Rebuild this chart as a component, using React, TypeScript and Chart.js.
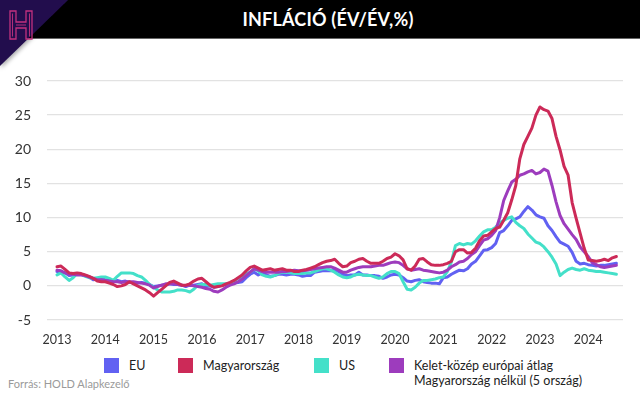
import React, { useEffect, useRef } from "react";
import { Chart, registerables } from "chart.js";

Chart.register(...registerables);

const START_YEAR = 2013;
const yearTicks = [2013, 2014, 2015, 2016, 2017, 2018, 2019, 2020, 2021, 2022, 2023, 2024];

const euValues = [
  2.1, 2.0, 1.9, 1.5, 1.6, 1.7, 1.7, 1.5, 1.3, 0.9, 1.0, 1.0,
  0.9, 0.8, 0.6, 0.8, 0.6, 0.7, 0.5, 0.5, 0.4, 0.5, 0.4, 0.2,
  -0.1, 0.0, 0.1, 0.1, 0.3, 0.2, 0.2, 0.1, -0.1, 0.1, 0.1, 0.2,
  0.3, -0.1, 0.0, -0.2, -0.1, 0.1, 0.2, 0.3, 0.4, 0.5, 0.6, 1.2,
  1.7, 2.0, 1.6, 1.9, 1.6, 1.4, 1.5, 1.7, 1.7, 1.6, 1.7, 1.7,
  1.6, 1.4, 1.5, 1.5, 2.0, 2.1, 2.2, 2.2, 2.2, 2.3, 2.1, 1.7,
  1.5, 1.6, 1.6, 2.0, 1.6, 1.6, 1.5, 1.5, 1.4, 1.1, 1.3, 1.6,
  1.7, 1.6, 1.2, 0.7, 0.6, 0.8, 0.9, 0.6, 0.5, 0.4, 0.4, 0.3,
  1.2, 1.3, 1.7, 2.0, 2.3, 2.2, 2.5, 3.2, 3.6, 4.4, 5.2, 5.3,
  5.6, 6.2, 7.8, 8.1, 8.8, 9.6, 9.8, 10.1, 10.9, 11.6, 11.1, 10.4,
  10.1, 9.9, 8.8, 8.1, 7.2, 6.4, 6.1, 5.8, 4.9, 3.6, 3.2, 3.3,
  3.1, 3.0, 2.9, 3.0, 3.0, 3.1, 3.2, 3.3,
];

const huValues = [
  2.8, 2.9, 2.4, 1.9, 1.8, 1.9, 1.8, 1.6, 1.4, 1.1, 0.7, 0.6,
  0.6, 0.4, 0.2, -0.1, 0.0, 0.2, 0.6, 0.3, 0.0, -0.3, -0.6, -1.0,
  -1.5, -1.0, -0.5, 0.0, 0.5, 0.7, 0.4, 0.1, 0.1, 0.3, 0.7, 1.0,
  1.1, 0.6, 0.1, -0.2, -0.1, 0.0, 0.3, 0.5, 0.8, 1.2, 1.6, 2.2,
  2.7, 2.9, 2.6, 2.3, 2.4, 2.5, 2.3, 2.4, 2.5, 2.3, 2.3, 2.1,
  2.1, 2.3, 2.4, 2.6, 2.8, 3.1, 3.4, 3.6, 3.7, 3.9, 3.3, 2.8,
  2.9, 3.4, 3.6, 3.9, 4.0, 3.6, 3.3, 3.3, 3.3, 3.6, 4.0, 4.2,
  4.7, 4.4, 3.8, 2.5, 2.3, 2.9, 3.9, 4.0, 3.5, 3.1, 3.0, 3.0,
  3.1, 3.3, 3.6, 5.0, 5.3, 5.3, 4.8, 4.9, 5.5, 6.6, 7.3, 7.4,
  7.9, 8.4, 8.6, 9.6, 10.7, 12.6, 14.7, 18.6, 20.7, 21.9, 23.1, 25.0,
  26.2, 25.8, 25.6, 24.5, 21.9, 19.9, 17.5, 16.2, 12.2, 9.9, 7.7, 5.5,
  3.8, 3.7, 3.6, 3.7, 3.9, 3.7, 4.1, 4.3,
];

const usValues = [
  1.6, 1.9, 1.3, 0.8, 1.2, 1.8, 1.7, 1.4, 1.2, 1.1, 1.2, 1.3,
  1.3, 1.1, 0.8, 1.4, 1.9, 1.9, 1.9, 1.8, 1.5, 1.3, 0.8, 0.2,
  -0.2, -0.6, -0.9, -0.9, -0.9, -0.8, -0.6, -0.6, -0.7, -0.9, -0.5, 0.1,
  0.2, 0.2, 0.1, 0.2, 0.3, 0.3, 0.3, 0.3, 0.7, 1.1, 1.3, 1.8,
  2.0, 2.5, 2.2, 1.6, 1.4, 1.3, 1.5, 1.8, 2.0, 2.0, 1.9, 1.8,
  1.8, 1.8, 1.9, 1.9, 2.1, 2.3, 2.5, 2.5, 2.3, 2.0, 1.6, 1.3,
  1.2, 1.3, 1.6, 1.7, 1.6, 1.5, 1.5, 1.3, 1.1, 1.3, 1.8, 2.1,
  2.1, 1.8, 0.6, -0.5, -0.6, -0.2, 0.4, 0.8, 0.8, 0.9, 1.0, 1.2,
  1.3, 2.1, 3.5, 5.9, 6.2, 6.0, 6.2, 6.1, 6.6, 7.3, 7.9, 8.2,
  8.2, 8.6, 9.2, 9.6, 9.9, 10.1, 9.3, 8.8, 8.4, 7.6, 7.0, 6.4,
  6.2, 5.7, 5.0, 4.2, 3.2, 1.5, 2.0, 2.4, 2.6, 2.4, 2.3, 2.5,
  2.3, 2.2, 2.1, 2.1, 2.0, 1.9, 1.8, 1.7,
];

const ceeValues = [
  2.3, 2.2, 1.9, 1.7, 1.7, 1.6, 1.6, 1.5, 1.3, 1.1, 0.9, 0.9,
  0.8, 0.7, 0.6, 0.6, 0.5, 0.6, 0.6, 0.6, 0.5, 0.4, 0.3, 0.1,
  -0.3, -0.1, 0.1, 0.3, 0.3, 0.3, 0.2, 0.1, 0.0, 0.1, 0.0, -0.1,
  -0.2, -0.4, -0.5, -0.8, -0.9, -0.6, -0.2, 0.1, 0.3, 0.6, 1.0, 1.5,
  2.0, 2.5, 2.3, 2.1, 2.0, 2.0, 2.0, 2.0, 2.1, 2.1, 2.2, 2.3,
  2.2, 2.2, 2.3, 2.4, 2.5, 2.6, 2.7, 2.8, 2.8, 2.6, 2.3, 2.0,
  2.0, 2.3, 2.5, 2.7, 2.8, 2.8, 2.8, 2.9, 3.0, 3.0, 3.2, 3.4,
  3.5, 3.4, 3.0, 2.5, 2.3, 2.4, 2.5, 2.3, 2.2, 2.1, 2.0, 1.9,
  2.0, 2.3, 2.8, 3.1, 3.5, 3.6, 4.0, 4.6, 5.0, 5.9, 6.7, 6.9,
  7.4, 8.1, 10.0, 12.5, 13.9, 15.2, 15.6, 16.2, 16.4, 16.7, 16.9, 16.4,
  16.6, 17.1, 16.8, 14.7, 12.3, 10.3, 9.1, 8.3, 7.5, 6.8, 5.7, 5.0,
  4.3, 3.4, 3.1, 2.8, 2.7, 2.8, 2.9, 3.0,
];

const seriesNames = ["EU", "Magyarország", "US", "Kelet-közép európai átlag Magyarország nélkül (5 ország)"];
const legendLines = [["EU"], ["Magyarország"], ["US"], ["Kelet-közép európai átlag", "Magyarország nélkül (5 ország)"]];
const seriesColors = ["#6161f2", "#cc2a58", "#44e0c9", "#9d3cbd"];
const seriesOrder = [3, 0, 2, 1];

const toPoints = (vals: number[]) =>
  vals.map((v, i) => ({ x: START_YEAR + i / 12, y: v }));

const FONT = "Lato, 'Open Sans', sans-serif";

export default function App() {
  const canvasRef = useRef<HTMLCanvasElement | null>(null);

  useEffect(() => {
    if (!canvasRef.current) return;
    const all = [euValues, huValues, usValues, ceeValues];
    const chart = new Chart(canvasRef.current, {
      type: "line",
      data: {
        datasets: all.map((vals, i) => ({
          label: seriesNames[i],
          data: toPoints(vals),
          borderColor: seriesColors[i],
          backgroundColor: seriesColors[i],
          borderWidth: 3,
          pointRadius: 0,
          tension: 0,
          borderJoinStyle: "round" as const,
          borderCapStyle: "round" as const,
          order: seriesOrder[i],
        })),
      },
      options: {
        responsive: false,
        animation: false,
        parsing: true,
        layout: { padding: { top: 41, right: 17, left: 0, bottom: 0 } },
        plugins: { legend: { display: false }, tooltip: { enabled: false } },
        scales: {
          x: {
            type: "linear",
            min: 2012.793,
            max: 2024.72,
            afterFit: (s: any) => { s.height = 32; },
            grid: { display: false, drawTicks: false },
            border: { display: false },
            ticks: {
              stepSize: 1,
              includeBounds: false,
              padding: 12,
              color: "#333",
              font: { family: FONT, size: 12.5 },
              callback: (v: any) => (yearTicks.includes(Number(v)) ? String(v) : ""),
              autoSkip: false,
              maxRotation: 0,
            },
          },
          y: {
            min: -5,
            max: 30,
            afterFit: (s: any) => { s.width = 47; },
            grid: { color: "#e2e2e2", lineWidth: 1.3, drawTicks: false },
            border: { display: false },
            ticks: {
              stepSize: 5,
              padding: 16,
              color: "#333",
              font: { family: FONT, size: 14 },
            },
          },
        },
      },
    });
    return () => chart.destroy();
  }, []);

  const legendX = [104, 178, 314, 389];

  return (
    <div style={{ position: "absolute", left: 0, top: 0, width: 640, height: 398, background: "#fff", overflow: "hidden", fontFamily: FONT }}>
      <div style={{ position: "absolute", left: 0, top: 0, width: 640, height: 38, background: "#000", borderBottom: "1px solid #666" }} />
      <div style={{ position: "absolute", left: 0, top: 0, width: 640, height: 38, display: "flex", alignItems: "center", justifyContent: "center", paddingLeft: 16, boxSizing: "border-box", color: "#fff", fontSize: 18, fontWeight: 700, letterSpacing: 0.2 }}>
        INFLÁCIÓ (ÉV/ÉV,%)
      </div>
      <svg width={90} height={80} style={{ position: "absolute", left: 0, top: 0 }}>
        <defs>
          <filter id="sh" x="-20%" y="-20%" width="160%" height="160%">
            <feDropShadow dx="1" dy="2" stdDeviation="2" floodColor="#000" floodOpacity="0.35" />
          </filter>
        </defs>
        <polygon points="0,0 68,0 0,66" fill="#23114d" filter="url(#sh)" />
        <path d="M10 11 H16 V22 H26 V11 H32 V39 H26 V28 H16 V39 H10 Z" fill="none" stroke="#c2317f" strokeWidth={1.3} />
        <path d="M12.5 13.5 V36.5 M29.5 13.5 V36.5 M16 25 H26" fill="none" stroke="#c2317f" strokeWidth={0.9} />
      </svg>
      <canvas ref={canvasRef} width={640} height={312} style={{ position: "absolute", left: 0, top: 40, width: 640, height: 312 }} />
      {legendLines.map((lines, i) => (
        <div key={i} style={{ position: "absolute", left: legendX[i], top: 358, display: "flex", alignItems: "flex-start" }}>
          <div style={{ width: 15, height: 15, background: seriesColors[i], marginTop: 0 }} />
          <div style={{ marginLeft: 10, fontSize: 12.5, lineHeight: "15px", color: "#222" }}>
            {lines.map((l, j) => (
              <div key={j}>{l}</div>
            ))}
          </div>
        </div>
      ))}
      <div style={{ position: "absolute", left: 8, top: 377, fontSize: 11, color: "#9a9a9a" }}>Forrás: HOLD Alapkezelő</div>
    </div>
  );
}
